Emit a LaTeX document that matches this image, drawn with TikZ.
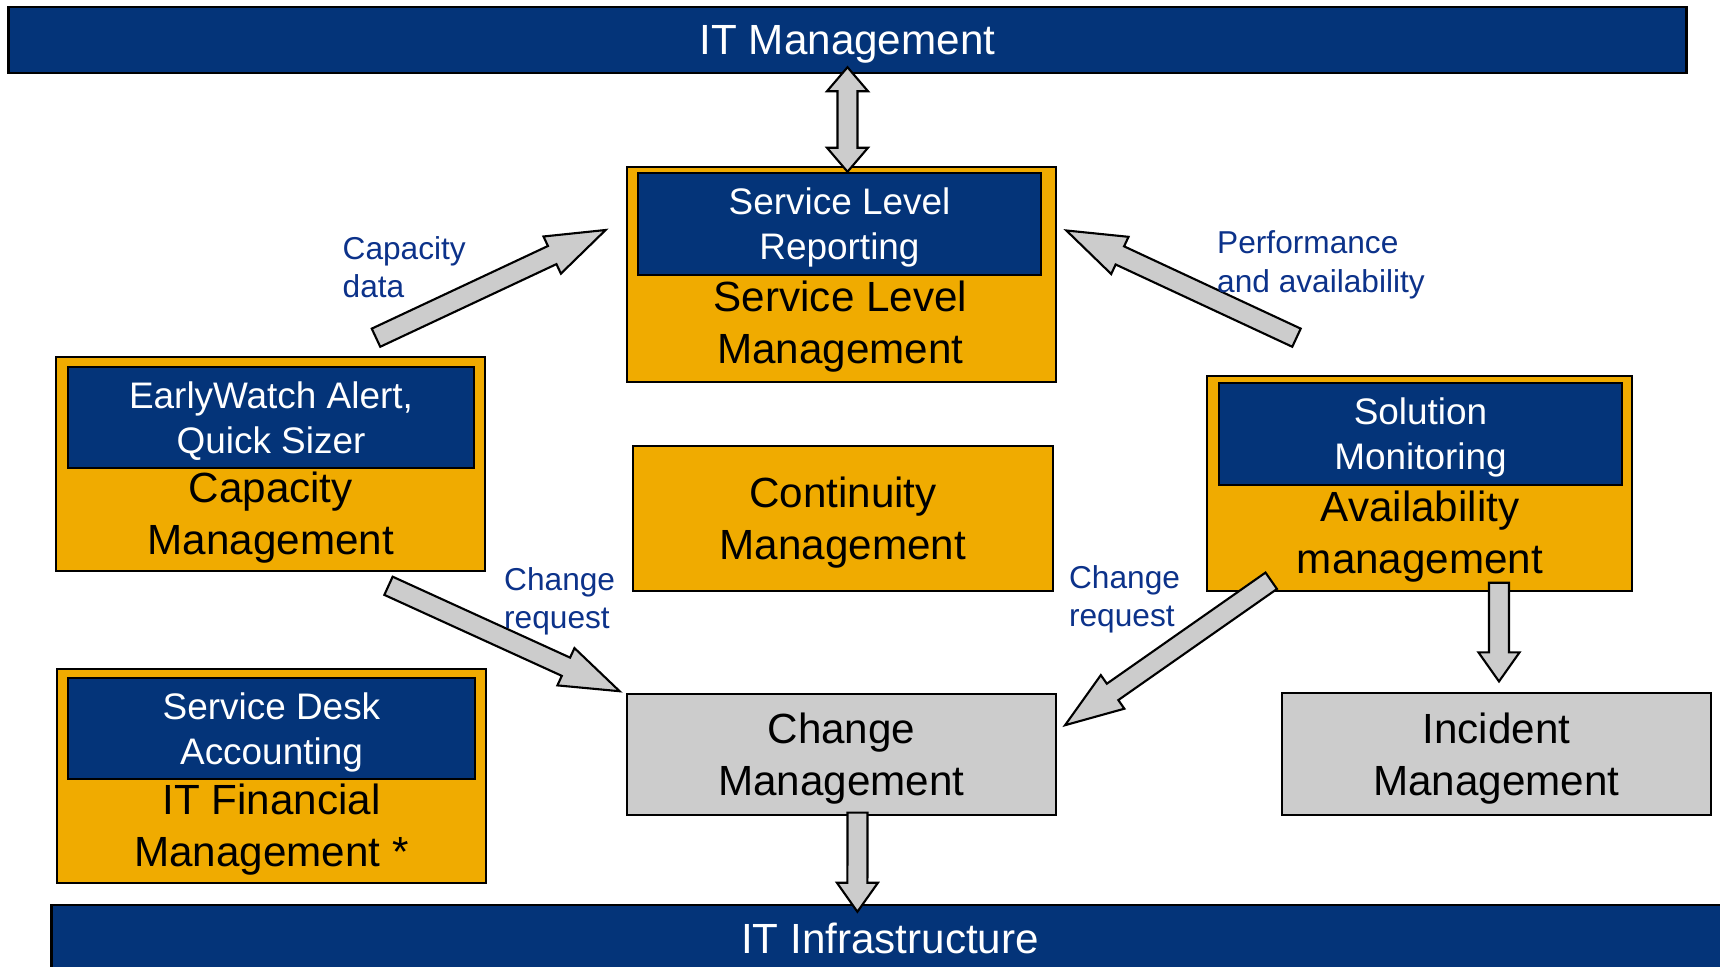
\documentclass[tikz,border=0pt]{standalone}
\usepackage{fontspec}
\setmainfont{Liberation Sans}
\usetikzlibrary{calc,positioning}

\definecolor{itblue}{RGB}{4,52,121}
\definecolor{sapgold}{RGB}{240,171,0}
\definecolor{boxgray}{RGB}{204,204,204}
\definecolor{lblblue}{RGB}{12,50,138}

% block arrow: tail, tip, head length
\newcommand{\fatarrow}[3]{%
  \coordinate (hb) at ($(#2)!#3!(#1)$);
  \filldraw[fat] ($(#1)!0.1cm!90:(#2)$) -- ($(hb)!0.1cm!90:(#2)$) -- ($(hb)!0.205cm!90:(#2)$) -- (#2)
    -- ($(hb)!0.205cm!-90:(#2)$) -- ($(hb)!0.1cm!-90:(#2)$) -- ($(#1)!0.1cm!-90:(#2)$) -- cycle;
}
% block arrow with two heads
\newcommand{\dblarrow}[3]{%
  \coordinate (ha) at ($(#1)!#3!(#2)$);
  \coordinate (hb) at ($(#2)!#3!(#1)$);
  \filldraw[fat] (#1) -- ($(ha)!0.205cm!90:(#2)$) -- ($(ha)!0.1cm!90:(#2)$) -- ($(hb)!0.1cm!90:(#2)$)
    -- ($(hb)!0.205cm!90:(#2)$) -- (#2) -- ($(hb)!0.205cm!-90:(#2)$) -- ($(hb)!0.1cm!-90:(#2)$)
    -- ($(ha)!0.1cm!-90:(#2)$) -- ($(ha)!0.205cm!-90:(#2)$) -- cycle;
}

\begin{document}
\begin{tikzpicture}[x=0.01cm, y=-0.01cm,
    bar/.style={draw, line width=0.7pt, fill=itblue, text=white, font=\fontsize{12}{14.7}\selectfont, minimum height=0.66cm, text depth=0pt},
    gold/.style={draw, line width=0.7pt, fill=sapgold, align=center, font=\fontsize{12}{14.7}\selectfont, minimum width=4.29cm, minimum height=2.15cm, text depth=0pt},
    tool/.style={draw, line width=0.7pt, fill=itblue, text=white, align=center, font=\fontsize{10.5}{12.8}\selectfont, minimum width=4.04cm, minimum height=1.02cm, inner sep=0pt, text depth=0pt},
    proc/.style={align=center, font=\fontsize{12}{14.7}\selectfont, inner sep=0pt},
    grey/.style={draw, line width=0.7pt, fill=boxgray, align=center, font=\fontsize{12}{14.7}\selectfont, minimum width=4.29cm, minimum height=1.21cm, text depth=0pt},
    flow/.style={text=lblblue, align=left, anchor=west, inner sep=0pt, font=\fontsize{9}{10.9}\selectfont},
    fat/.style={draw, line width=0.6pt, fill=boxgray}]
  \clip (0,0) rectangle (1720,967);

  % bars
  \node[bar, minimum width=16.77cm] (itm) at (847.5,40) {IT Management};
  \node[bar, minimum width=16.76cm] (iti) at (890,938) {IT Infrastructure};

  % processes
  \node[gold] (slm) at (841.5,274.5) {};
  \node[tool, minimum width=4.03cm] (slr) at (839.5,224) {Service Level\\Reporting};
  \node[proc] (slmt) at ($(slr.south)!.5!(slm.south)+(0,-3)$) {Service Level\\Management};

  \node[gold, minimum height=2.14cm] (cap) at (270.5,464) {};
  \node[tool, minimum width=4.06cm, minimum height=1.01cm] (ewa) at (271,417.5) {EarlyWatch Alert,\\Quick Sizer};
  \node[proc] (capt) at ($(ewa.south)!.5!(cap.south)+(0,-3)$) {Capacity\\Management};

  \node[gold, minimum height=2.14cm] (fin) at (271.5,776) {};
  \node[tool, minimum width=4.07cm, minimum height=1.01cm] (sda) at (271.5,728.5) {Service Desk\\Accounting};
  \node[proc] (fint) at ($(sda.south)!.5!(fin.south)+(0,-3)$) {IT Financial\\Management *};

  \node[gold, minimum width=4.20cm, minimum height=1.45cm] (con) at (843,518.5) {Continuity\\Management};

  \node[gold, minimum width=4.25cm] (ava) at (1419.5,483.5) {};
  \node[tool, minimum width=4.03cm] (som) at (1420.5,434) {Solution\\Monitoring};
  \node[proc] (avat) at ($(som.south)!.5!(ava.south)+(0,-3)$) {Availability\\management};

  \node[grey] (chg) at (841.5,754.5) {Change\\Management};
  \node[grey, minimum height=1.22cm] (inc) at (1496.5,754) {Incident\\Management};

  % arrow ends
  \coordinate (a1) at ($(itm.south)+(0,-7)$);
  \coordinate (a2) at (itm.south |- slr.north);
  \coordinate (b1) at ($(cap.north)+(105.5,-18)$);
  \coordinate (b2) at ($(slm.west)+(-20,-44.5)$);
  \coordinate (c1) at ($(ava.north)+(-123,-37)$);
  \coordinate (c2) at ($(slm.east)+(9,-44)$);
  \coordinate (d1) at ($(cap.south)+(118,13.5)$);
  \coordinate (d2) at ($(chg.north west)+(-6,-1.5)$);
  \coordinate (e1) at ($(ava.south west)+(65.6,-11.5)$);
  \coordinate (e2) at ($(chg.east)+(7.7,-29.3)$);
  \coordinate (f1) at ($(ava.south)+(79.5,-9.5)$);
  \coordinate (f2) at ($(inc.north)+(2.5,-10.3)$);
  \coordinate (g1) at ($(chg.south)+(16,-3.6)$);
  \coordinate (g2) at ($(iti.north)+(-32.6,8)$);

  \dblarrow{a1}{a2}{0.24cm}
  \fatarrow{b1}{b2}{0.59cm}
  \fatarrow{c1}{c2}{0.59cm}
  \fatarrow{d1}{d2}{0.59cm}
  \fatarrow{e1}{e2}{0.58cm}
  \fatarrow{f1}{f2}{0.29cm}
  \fatarrow{g1}{g2}{0.29cm}

  % flow labels
  \node[flow] (lcap) at (342,267) {Capacity\\data};
  \node[flow] (lper) at (1216.5,265) {Performance\\and availability};
  \node[flow] (lchl) at (503.5,601) {Change\\request};
  \node[flow] (lchr) at (1068.4,599) {Change\\request};
\end{tikzpicture}
\end{document}
